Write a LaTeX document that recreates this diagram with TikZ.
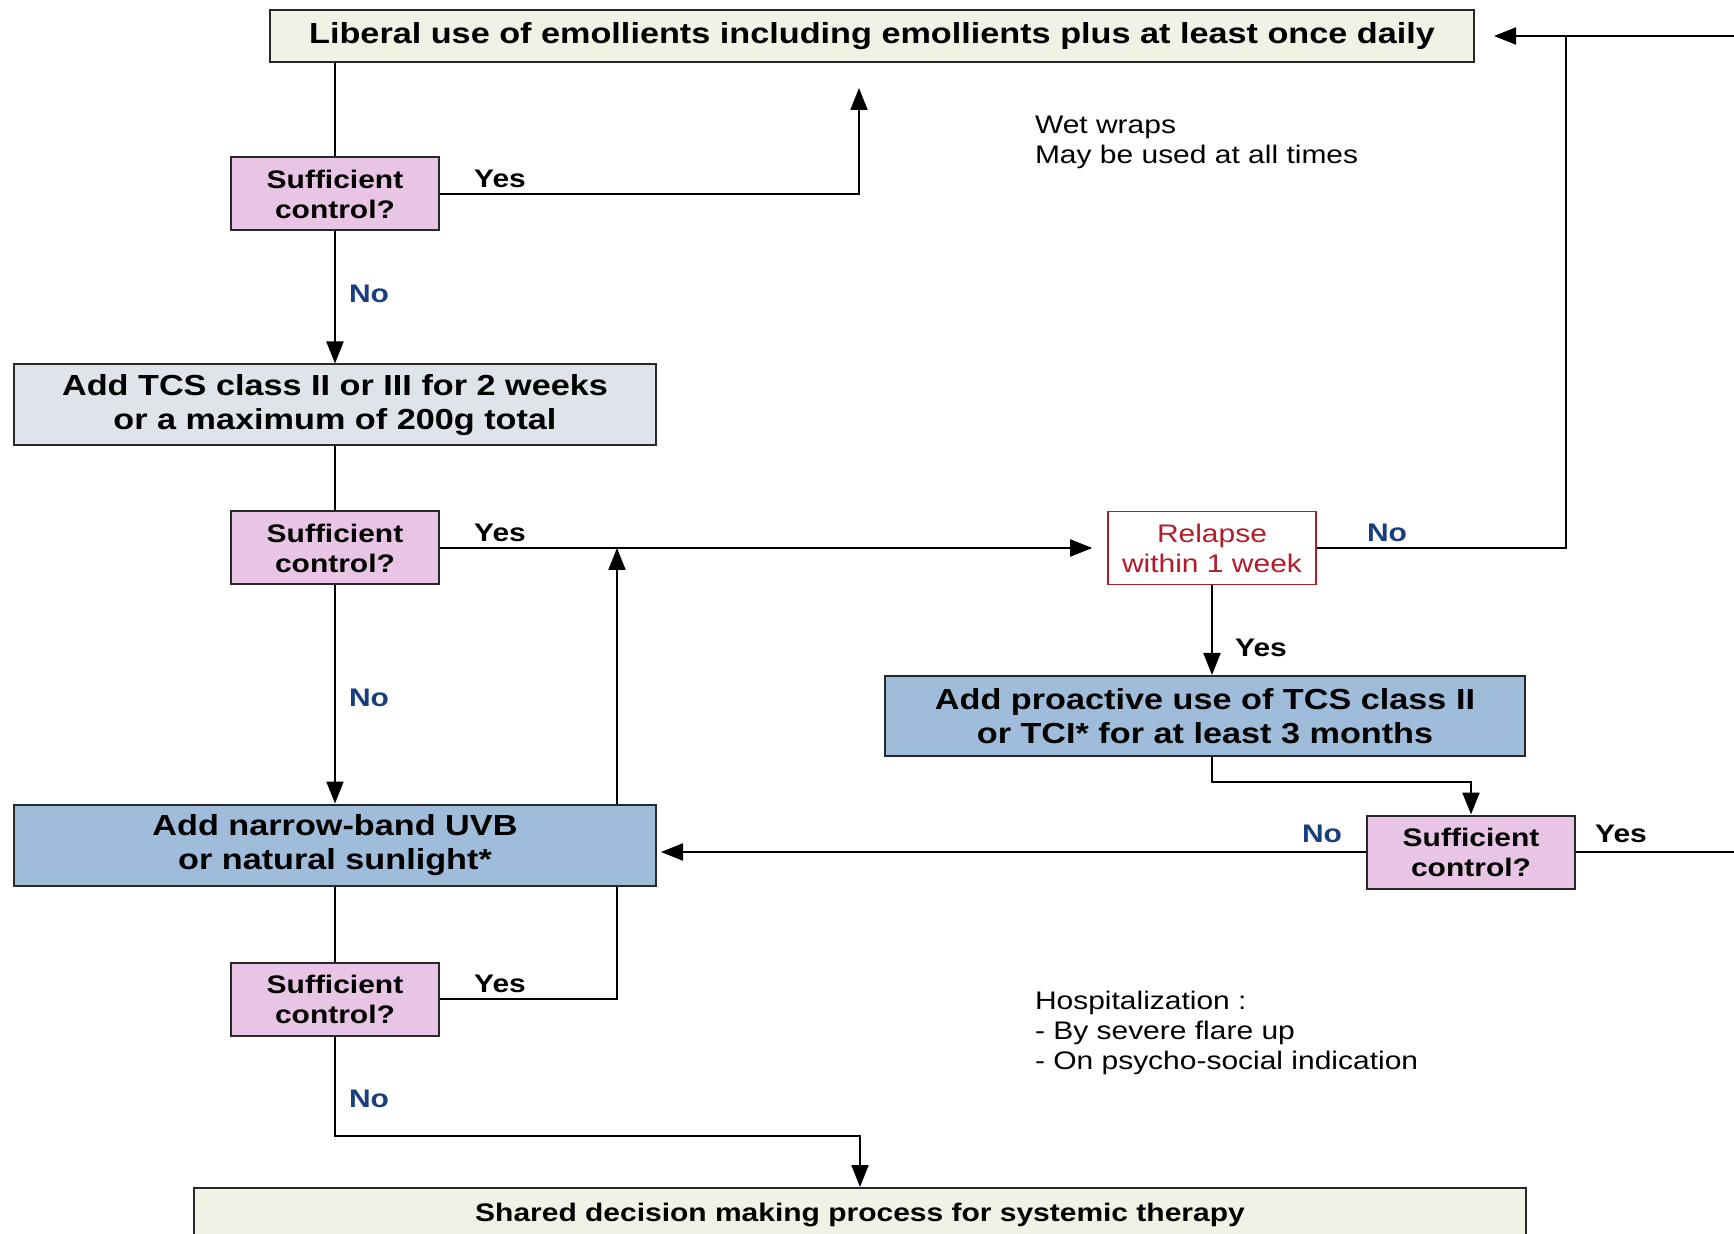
\documentclass[tikz,border=0pt]{standalone}
\usepackage{fontspec}
\setmainfont{Liberation Sans}[FakeStretch=1.18]
\usepackage{tikz}
\usetikzlibrary{arrows.meta}

\definecolor{emolfill}{RGB}{240,242,230}
\definecolor{tcsfill}{RGB}{222,228,233}
\definecolor{treatfill}{RGB}{159,189,218}
\definecolor{askfill}{RGB}{232,197,228}
\definecolor{relapsered}{RGB}{178,28,40}
\definecolor{noblue}{RGB}{25,62,125}
\definecolor{boxline}{RGB}{40,40,40}

\tikzset{
  stage/.style={draw=boxline, line width=1pt, align=center, inner sep=0pt, font=\bfseries\fontsize{14.5}{17.15}\selectfont},
  ask/.style={stage, fill=askfill, minimum width=104pt, minimum height=36.5pt, font=\bfseries\fontsize{12.7}{15}\selectfont},
  yeslabel/.style={font=\bfseries\fontsize{12.7}{15}\selectfont},
  nolabel/.style={yeslabel, text=noblue},
  note/.style={align=left, anchor=west, inner sep=0pt, font=\fontsize{12.7}{15}\selectfont},
  flow/.style={line width=1pt, -{Triangle[length=11pt,width=8.5pt]}},
}

\begin{document}
\begin{tikzpicture}[x=0.5pt, y=-0.5pt, line width=1pt]
    \useasboundingbox (0,0) rectangle (1734,1234);

    \node[stage, fill=emolfill, minimum width=602pt, minimum height=26pt] (emol) at (872,36) {Liberal use of emollients including emollients plus at least once daily};
    \node[ask] (ask1) at (335,194) {Sufficient\\control?};
    \node[stage, fill=tcsfill, minimum width=321pt, minimum height=40.5pt] (tcs) at (335,405) {Add TCS class II or III for 2 weeks\\or a maximum of 200g total};
    \node[ask] (ask2) at (335,548) {Sufficient\\control?};
    \node[stage, draw=relapsered, line width=0.8pt, text=relapsered, font=\fontsize{12.7}{15}\selectfont, minimum width=104pt, minimum height=36.5pt] (relapse) at (1212,548) {Relapse\\within 1 week};
    \node[stage, fill=treatfill, minimum width=320pt, minimum height=40pt] (proactive) at (1205,716) {Add proactive use of TCS class II\\or TCI* for at least 3 months};
    \node[ask] (ask4) at (1471,852) {Sufficient\\control?};
    \node[stage, fill=treatfill, minimum width=321pt, minimum height=40.5pt] (uvb) at (335,845) {Add narrow-band UVB\\or natural sunlight*};
    \node[ask] (ask3) at (335,999) {Sufficient\\control?};
    \node[stage, fill=emolfill, minimum width=666pt, minimum height=27pt, font=\bfseries\fontsize{12.7}{15}\selectfont] (systemic) at (860,1215) {Shared decision making process for systemic therapy};

    \coordinate (backup) at (859,88);
    \coordinate (uvbjoin) at (617,548);
    \coordinate (loopright) at (1566,35);
    \coordinate (offpage) at (1760,852);

    \draw (emol.south -| ask1.north) -- (ask1.north);
    \draw[flow] (ask1.east) -| (backup);
    \draw[flow] (ask1) -- (tcs);
    \draw (tcs) -- (ask2);
    \draw[flow, shorten >=7.5pt] (ask2) -- (relapse);
    \draw[flow] (uvb.north -| uvbjoin) -- (uvbjoin);
    \draw (relapse.east) -| (loopright);
    \draw[flow, shorten >=9.5pt] (ask4.east) -- (offpage) |- (emol.east);

    \draw[flow] (relapse.south) -- (relapse.south |- proactive.north);
    \draw[flow] (relapse.south |- proactive.south) -- ++(0,25) -| (ask4.north);
    \draw[flow, shorten >=2pt] (ask4.west) -- (uvb.east |- ask4.west);

    \draw[flow] (ask2) -- (uvb);
    \draw (uvb) -- (ask3);
    \draw (ask3.east) -| (uvb.south -| uvbjoin);
    \draw[flow] (ask3.south) -- ++(0,99) -| (systemic.north);

    \node[yeslabel] (yes1) at (500,179) {Yes};
    \node[nolabel] (no1) at (369,294) {No};
    \node[yeslabel] (yes2) at (500,533) {Yes};
    \node[nolabel] (no2) at (369,698) {No};
    \node[nolabel] (no3) at (1387,533) {No};
    \node[yeslabel] (yes3) at (1261,648) {Yes};
    \node[nolabel] (no4) at (1322,834) {No};
    \node[yeslabel] (yes4) at (1621,834) {Yes};
    \node[yeslabel] (yes5) at (500,984) {Yes};
    \node[nolabel] (no5) at (369,1099) {No};

    \node[note] (wetwraps) at (1034,142) {Wet wraps\\May be used at all times};
    \node[note] (hospital) at (1034,1033) {Hospitalization :\\- By severe flare up\\- On psycho-social indication};
\end{tikzpicture}
\end{document}
